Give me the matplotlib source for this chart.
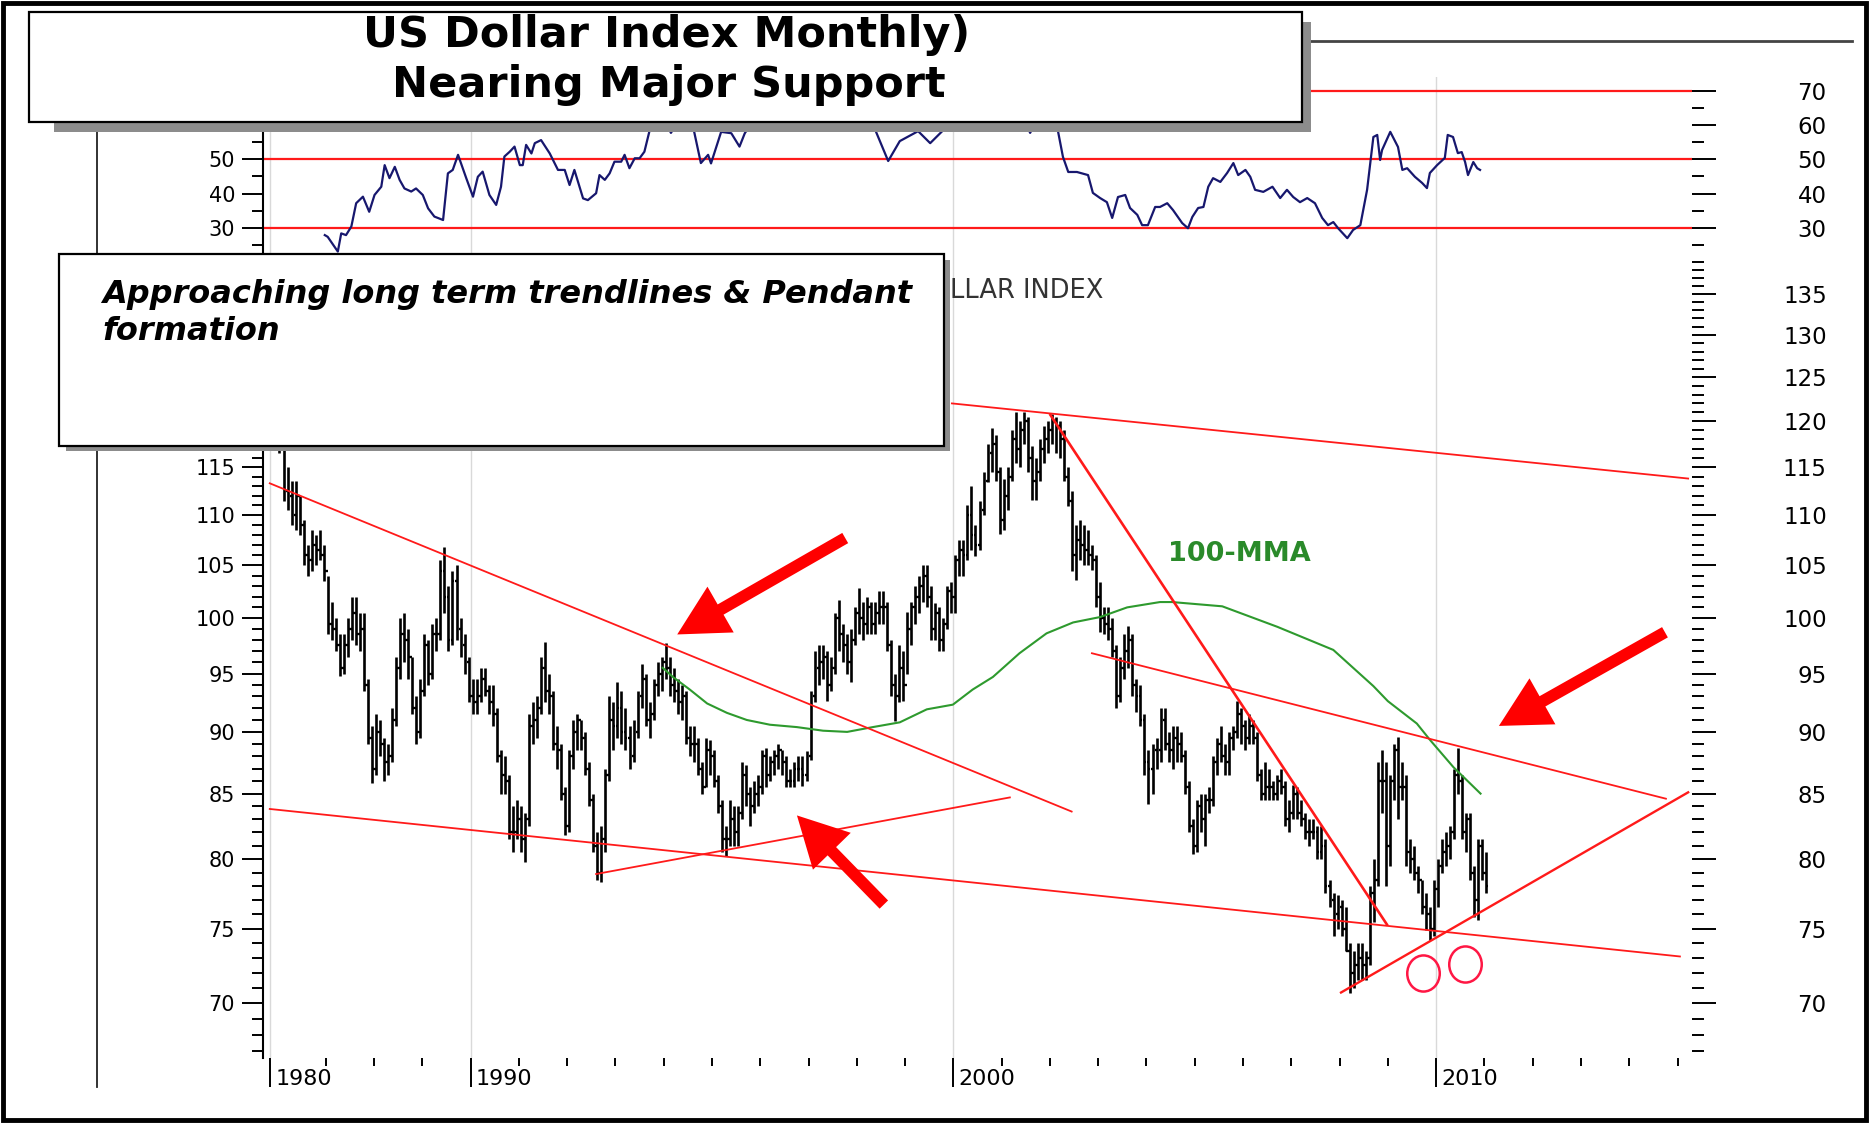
import numpy as np
import matplotlib.pyplot as plt
from matplotlib.patches import Rectangle
from matplotlib.lines import Line2D
from matplotlib.path import Path
from matplotlib.transforms import Affine2D
from matplotlib.ticker import FixedLocator, FixedFormatter, NullFormatter

# ---------------- data ----------------
# monthly bars, Jan 1986 .. Jan 2011
start_year = 1986
high = [122.0, 119.0, 115.0, 113.5, 113.5, 112.0, 109.5, 107.0, 108.5, 108.0, 108.5, 107.0,
        104.0, 101.5, 100.0, 98.5, 98.5, 100.0, 102.0, 102.0, 100.5, 100.5, 94.5, 90.5,
        91.5, 91.0, 89.5, 89.0, 92.0, 96.5, 100.0, 100.5, 99.0, 96.5, 93.0, 94.5,
        98.5, 98.0, 99.5, 100.0, 105.5, 106.8, 103.0, 104.5, 105.0, 100.0, 98.5, 96.5,
        94.5, 94.5, 95.5, 95.5, 94.0, 94.0, 92.0, 88.5, 88.0, 86.5, 84.0, 84.5,
        84.0, 83.5, 91.5, 92.5, 93.0, 96.5, 97.8, 95.0, 93.5, 90.5, 89.0, 85.5,
        88.5, 91.0, 91.5, 91.0, 90.0, 87.5, 85.0, 82.0, 82.5, 87.0, 93.0, 92.5,
        94.3, 93.5, 92.0, 90.5, 91.0, 93.5, 95.8, 95.0, 92.5, 94.5, 96.0, 96.5,
        97.7, 96.5, 95.5, 94.5, 94.0, 93.5, 90.5, 90.5, 89.5, 87.5, 89.5, 89.3,
        88.5, 86.5, 84.5, 82.5, 84.5, 84.0, 84.0, 87.5, 87.3, 85.5, 86.0, 86.5,
        88.5, 88.7, 88.0, 88.5, 89.0, 88.5, 88.0, 87.0, 87.5, 88.0, 88.0, 88.4,
        93.5, 97.0, 97.5, 97.5, 97.0, 96.5, 100.5, 101.7, 99.5, 98.5, 99.0, 101.0,
        102.8, 101.5, 102.0, 101.5, 101.5, 102.5, 102.5, 101.5, 98.0, 95.0, 97.5, 97.0,
        100.6, 101.5, 103.0, 104.0, 105.0, 105.0, 103.0, 101.4, 101.0, 100.0, 103.0, 103.4,
        106.0, 107.5, 107.5, 111.0, 113.0, 109.0, 111.5, 114.5, 117.5, 119.3, 118.5, 115.0,
        113.7, 115.0, 119.0, 121.0, 120.0, 121.0, 120.5, 117.3, 116.0, 118.0, 119.5, 120.0,
        120.8, 120.5, 120.0, 119.0, 115.0, 112.5, 109.0, 109.5, 109.0, 108.5, 107.0, 106.0,
        103.4, 101.0, 101.0, 100.0, 97.5, 96.5, 98.5, 99.3, 98.5, 94.5, 94.0, 91.5,
        88.5, 89.0, 89.5, 92.0, 92.0, 90.0, 90.5, 90.5, 90.0, 88.5, 86.0, 83.0,
        84.5, 85.0, 85.0, 85.5, 88.0, 89.5, 90.5, 89.0, 90.0, 90.5, 92.6, 92.0,
        91.0, 91.5, 91.0, 90.0, 87.0, 87.5, 87.0, 86.0, 86.5, 87.0, 86.0, 84.5,
        85.7, 85.5, 84.5, 83.5, 83.0, 83.0, 82.5, 82.5, 81.5, 78.5, 77.5, 77.4,
        77.0, 76.5, 74.0, 73.5, 74.0, 74.0, 73.5, 78.0, 80.0, 87.5, 88.5, 87.5,
        86.5, 89.0, 89.6, 87.5, 86.5, 81.5, 81.0, 79.5, 78.5, 77.5, 76.5, 78.5,
        80.0, 81.5, 82.0, 82.5, 87.0, 88.7, 86.5, 83.5, 83.5, 79.5, 81.5, 81.5,
        80.5]
low = [116.5, 111.5, 110.5, 109.0, 108.5, 108.0, 105.0, 104.0, 104.5, 105.0, 105.5, 103.5,
       98.5, 98.0, 97.0, 94.8, 95.0, 96.5, 98.0, 97.5, 97.0, 93.5, 89.0, 85.8,
       86.5, 88.0, 86.0, 86.5, 87.5, 90.5, 94.5, 96.0, 94.5, 91.5, 89.0, 89.5,
       93.0, 94.0, 94.5, 97.0, 98.0, 100.5, 97.0, 97.5, 98.0, 96.5, 95.0, 92.5,
       91.5, 91.5, 92.5, 93.0, 91.5, 90.5, 87.5, 85.0, 85.0, 81.5, 80.5, 81.5,
       80.5, 79.8, 82.5, 89.0, 89.5, 91.5, 92.5, 91.5, 88.5, 87.0, 84.5, 81.8,
       82.0, 87.0, 88.5, 88.5, 86.5, 84.0, 80.5, 78.5, 78.3, 80.5, 86.0, 88.5,
       89.5, 89.0, 88.5, 87.0, 87.5, 89.5, 92.0, 90.5, 89.5, 91.0, 93.0, 93.5,
       94.5, 93.0, 92.5, 91.5, 91.0, 89.0, 88.0, 87.5, 86.5, 85.0, 85.5, 86.5,
       85.5, 83.5, 80.5, 80.2, 81.0, 81.0, 81.0, 83.0, 84.0, 82.5, 83.5, 84.0,
       85.0, 85.5, 86.0, 86.5, 87.0, 86.5, 85.5, 85.5, 85.5, 86.0, 85.6, 86.0,
       87.7, 92.5, 94.0, 94.5, 92.6, 93.5, 95.0, 97.0, 96.0, 95.0, 94.3, 97.5,
       98.5, 98.0, 98.5, 98.5, 98.5, 99.5, 99.5, 97.0, 93.0, 90.9, 92.5, 92.6,
       95.0, 97.5, 99.5, 100.5, 101.5, 101.0, 98.0, 98.0, 97.0, 97.0, 99.0, 100.5,
       100.5, 104.0, 104.0, 105.5, 106.5, 105.9, 106.5, 110.0, 113.4, 114.5, 113.5, 108.1,
       108.5, 110.5, 113.5, 115.5, 115.0, 117.5, 114.5, 111.6, 111.6, 113.5, 115.5, 116.5,
       117.5, 116.5, 116.0, 113.5, 110.9, 104.5, 103.6, 105.5, 105.0, 105.0, 104.6, 101.0,
       98.7, 98.5, 98.0, 96.5, 92.0, 92.5, 94.5, 95.5, 93.0, 91.7, 90.5, 86.5,
       84.2, 85.0, 87.0, 87.5, 88.5, 87.5, 87.0, 87.5, 87.5, 85.0, 82.0, 80.4,
       80.5, 82.0, 81.0, 83.5, 84.0, 86.5, 87.5, 86.5, 86.5, 88.5, 89.5, 89.0,
       88.5, 89.0, 89.0, 86.0, 84.5, 84.5, 84.5, 84.5, 84.5, 85.0, 82.5, 82.0,
       83.0, 83.0, 82.5, 81.5, 81.0, 81.5, 80.0, 80.0, 77.5, 76.5, 74.5, 75.0,
       74.5, 73.5, 70.7, 71.0, 71.5, 71.5, 71.5, 72.5, 75.5, 78.0, 83.5, 78.0,
       79.5, 84.5, 83.0, 84.5, 79.5, 79.0, 78.5, 77.5, 76.0, 74.9, 74.2, 74.5,
       76.5, 79.0, 79.5, 80.0, 81.5, 85.0, 81.5, 80.5, 78.5, 75.8, 75.6, 78.5,
       77.5]
close = [118.0, 112.5, 112.0, 110.0, 112.0, 109.0, 106.0, 105.5, 107.0, 106.5, 106.0, 104.5,
         99.5, 99.0, 97.5, 95.5, 97.5, 99.0, 100.5, 98.5, 99.0, 94.0, 89.5, 87.0,
         90.0, 89.0, 87.5, 88.0, 91.0, 95.5, 98.5, 98.0, 96.5, 92.0, 90.0, 93.5,
         97.5, 95.0, 98.5, 98.5, 104.5, 102.0, 98.0, 103.5, 99.0, 97.5, 96.0, 93.0,
         92.5, 93.0, 94.5, 93.5, 92.5, 91.5, 88.0, 86.5, 86.0, 82.0, 82.0, 83.0,
         81.5, 83.0, 90.5, 91.0, 92.0, 95.5, 93.5, 93.0, 89.0, 88.5, 85.0, 82.5,
         88.0, 90.0, 91.0, 89.5, 87.0, 84.5, 81.0, 79.0, 81.5, 86.5, 91.0, 90.5,
         92.0, 90.0, 89.5, 88.0, 90.0, 93.0, 94.5, 91.0, 91.5, 94.0, 95.0, 96.0,
         95.5, 94.0, 93.5, 92.5, 93.0, 89.5, 89.0, 89.0, 87.0, 85.5, 88.5, 88.0,
         86.0, 84.0, 81.5, 81.5, 83.0, 82.0, 83.5, 86.5, 85.0, 84.0, 85.0, 85.5,
         88.0, 86.5, 87.5, 88.0, 88.5, 87.5, 86.0, 86.0, 87.0, 87.0, 86.5, 88.0,
         93.0, 95.5, 96.0, 96.5, 94.0, 95.5, 100.0, 98.5, 97.5, 96.0, 98.0, 100.5,
         100.0, 99.5, 101.0, 99.5, 100.5, 101.0, 101.0, 97.5, 94.0, 93.0, 95.5, 94.0,
         99.0, 101.0, 102.0, 103.0, 104.0, 102.0, 99.0, 100.5, 98.0, 99.5, 102.5, 102.0,
         105.5, 106.5, 106.0, 110.0, 108.0, 107.0, 110.5, 113.5, 116.5, 117.5, 114.5, 109.5,
         112.0, 114.0, 118.0, 117.0, 119.0, 120.0, 116.0, 113.5, 114.5, 117.0, 118.0, 119.0,
         120.0, 119.5, 118.0, 114.0, 111.5, 106.0, 107.5, 107.0, 106.5, 106.0, 105.5, 102.0,
         100.0, 99.5, 99.0, 97.0, 93.0, 95.5, 97.0, 98.0, 94.0, 93.0, 91.0, 87.5,
         87.0, 88.5, 88.5, 91.0, 89.0, 88.5, 89.5, 89.0, 88.0, 85.5, 82.5, 81.0,
         84.0, 83.0, 84.5, 84.5, 87.5, 89.0, 88.0, 87.5, 89.5, 90.0, 91.5, 90.5,
         89.5, 90.5, 89.5, 86.5, 85.0, 85.5, 85.5, 85.0, 86.0, 85.5, 83.0, 83.5,
         85.0, 83.5, 83.0, 82.0, 82.0, 82.0, 80.5, 81.0, 78.0, 77.0, 76.0, 76.5,
         75.0, 73.5, 72.0, 72.5, 73.0, 72.5, 73.0, 77.5, 78.5, 86.0, 86.0, 81.0,
         86.0, 88.5, 85.5, 85.5, 80.5, 80.0, 79.0, 78.5, 76.5, 76.0, 75.0, 77.8,
         79.5, 80.5, 81.0, 82.0, 86.5, 86.0, 82.0, 83.0, 79.0, 77.0, 81.0, 79.0,
         78.0]

# RSI panel
rsi_year = [1986.98, 1987.04, 1987.25, 1987.32, 1987.42, 1987.53, 1987.63, 1987.77, 1987.90, 1988.01,
            1988.15, 1988.22, 1988.32, 1988.43, 1988.53, 1988.63, 1988.77, 1988.87, 1989.01, 1989.12,
            1989.25, 1989.43, 1989.53, 1989.63, 1989.74, 1989.91, 1990.05, 1990.15, 1990.25, 1990.39,
            1990.53, 1990.63, 1990.70, 1990.81, 1990.91, 1991.02, 1991.08, 1991.15, 1991.26, 1991.33,
            1991.46, 1991.64, 1991.81, 1991.95, 1992.05, 1992.15, 1992.33, 1992.43, 1992.60, 1992.67,
            1992.78, 1992.88, 1992.98, 1993.12, 1993.19, 1993.29, 1993.40, 1993.50, 1993.60, 1993.71,
            1993.92, 1994.15, 1994.34, 1994.54, 1994.77, 1994.92, 1994.98, 1995.19, 1995.40, 1995.57,
            1995.68, 1995.99, 1996.41, 1996.82, 1997.24, 1997.86, 1998.28, 1998.65, 1998.89, 1999.27,
            1999.52, 1999.77, 2000.14, 2000.56, 2000.97, 2001.28, 2001.59, 2001.90, 2002.17, 2002.27,
            2002.38, 2002.56, 2002.79, 2002.89, 2003.04, 2003.18, 2003.29, 2003.41, 2003.56, 2003.66,
            2003.81, 2003.91, 2004.03, 2004.18, 2004.28, 2004.43, 2004.55, 2004.74, 2004.86, 2004.95,
            2005.07, 2005.18, 2005.28, 2005.38, 2005.53, 2005.67, 2005.80, 2005.90, 2006.05, 2006.15,
            2006.25, 2006.42, 2006.61, 2006.77, 2006.91, 2007.04, 2007.18, 2007.33, 2007.49, 2007.64,
            2007.76, 2007.87, 2007.97, 2008.16, 2008.28, 2008.43, 2008.57, 2008.70, 2008.78, 2008.84,
            2008.88, 2009.05, 2009.21, 2009.30, 2009.40, 2009.56, 2009.71, 2009.81, 2009.87, 2010.02,
            2010.18, 2010.24, 2010.35, 2010.45, 2010.53, 2010.60, 2010.66, 2010.77, 2010.85, 2010.91]
rsi_value = [27.9, 27.4, 23.1, 28.4, 27.9, 30.4, 37.2, 39.1, 34.7, 39.6,
             42.0, 48.3, 44.5, 47.8, 44.0, 41.5, 40.6, 41.5, 39.6, 35.7,
             33.3, 32.3, 45.9, 46.9, 51.3, 44.5, 39.1, 44.9, 46.4, 39.6,
             36.7, 42.0, 50.8, 52.2, 53.7, 48.3, 48.3, 54.2, 51.7, 54.7,
             55.6, 51.7, 46.9, 46.9, 42.5, 46.9, 38.6, 38.1, 40.1, 45.4,
             44.0, 45.9, 49.3, 49.3, 51.3, 47.4, 50.3, 50.3, 52.2, 58.5,
             64.0, 57.7, 62.0, 64.0, 48.9, 51.3, 48.8, 58.0, 57.6, 53.7,
             57.6, 64.0, 66.0, 64.0, 68.0, 65.0, 62.0, 49.5, 55.3, 58.2,
             54.7, 58.2, 66.0, 70.0, 66.0, 68.0, 57.7, 66.0, 58.0, 50.7,
             46.3, 46.3, 45.4, 40.2, 38.7, 37.5, 32.9, 39.0, 39.6, 35.8,
             33.8, 30.8, 30.8, 36.1, 36.1, 37.2, 35.2, 31.4, 29.9, 33.2,
             35.8, 36.1, 42.0, 44.5, 43.4, 46.0, 48.9, 45.4, 46.9, 44.9,
             41.1, 40.5, 42.0, 38.7, 41.1, 39.0, 37.5, 38.7, 37.2, 32.9,
             30.8, 31.7, 29.9, 27.0, 29.4, 30.8, 41.1, 56.5, 57.1, 49.8,
             52.7, 58.0, 53.6, 46.9, 47.4, 44.9, 43.1, 41.6, 46.0, 48.3,
             50.4, 57.1, 56.5, 51.8, 52.1, 49.2, 45.4, 49.2, 47.4, 46.9]
rsi_levels = [70, 50, 30]

# 100 month moving average
mma_year = [1993.98, 1994.19, 1994.54, 1994.90, 1995.31, 1995.72, 1996.20, 1996.76, 1997.30, 1997.80,
            1998.33, 1998.89, 1999.45, 1999.99, 2000.40, 2000.82, 2001.37, 2001.93, 2002.48, 2003.04,
            2003.60, 2004.28, 2004.53, 2005.57, 2006.71, 2007.87, 2008.70, 2009.00, 2009.60, 2009.88,
            2010.36, 2010.92]
mma_value = [95.5, 94.7, 93.6, 92.4, 91.6, 91.0, 90.6, 90.4, 90.1, 90.0,
             90.4, 90.8, 91.9, 92.3, 93.6, 94.7, 96.8, 98.6, 99.6, 100.1,
             101.0, 101.5, 101.5, 101.1, 99.2, 97.1, 93.9, 92.6, 90.7, 89.3,
             87.1, 85.0]

# drawn trendlines: (year0, value0, year1, value1)
trend_lines = [(1985.84, 113.3, 2002.45, 83.6),
               (1985.84, 83.8, 2015.05, 73.1),
               (1992.60, 78.9, 2001.17, 84.7),
               (1999.97, 122.0, 2015.22, 113.8),
               (2002.01, 120.7, 2008.98, 75.3),
               (2002.87, 96.8, 2014.76, 84.6),
               (2008.03, 70.7, 2015.22, 85.1)]
trend_widths = [1.3, 1.3, 1.3, 1.3, 1.9, 1.3, 1.7]

# arrows: tip and tail
arrow_tip = [(1994.28, 98.5), (1996.76, 83.3), (2011.30, 90.5)]
arrow_tail = [(1997.76, 107.7), (1998.56, 76.7), (2014.74, 98.7)]

circle_year = [2009.73, 2010.60]
circle_value = [72.0, 72.6]

decade_pos = [1985.85, 1990, 2000, 2010]
decade_labels = ['1980', '1990', '2000', '2010']
price_major = [70, 75, 80, 85, 90, 95, 100, 105, 110, 115, 120, 125, 130, 135]
price_left_labels = [70, 75, 80, 85, 90, 95, 100, 105, 110, 115]
rsi_major = [30, 40, 50, 60, 70]
rsi_left_labels = [30, 40, 50]

# ---------------- layout helpers (pixels of the 1870x1123 picture) ----------------
W, H = 1870, 1123
fig = plt.figure(figsize=(W / 100, H / 100), dpi=100)
fig.patch.set_facecolor('white')


def fx(x):
    return x / W


def fy(y):
    return 1 - y / H


x_lim = (1985.70, 2015.30)
tick_w = 1.4

# ---------------- price panel ----------------
ax = fig.add_axes([fx(263), fy(1058), fx(1692) - fx(263), fy(268) - fy(1058)])
ax.set_yscale('log')
ax.set_ylim(66.54, 138.3)
ax.set_xlim(*x_lim)
for s in ['top', 'right', 'bottom']:
    ax.spines[s].set_visible(False)
ax.spines['left'].set_linewidth(1.5)

for yr in decade_pos:
    ax.axvline(yr, color='#d9d9d9', lw=1.0, zorder=0)

t = start_year + np.arange(len(close)) / 12.0 + 1 / 24.0
hi = np.array(high)
lo = np.array(low)
cl = np.array(close)
op = np.r_[cl[0], cl[:-1]]
ax.vlines(t, lo, hi, color='black', lw=1.9, zorder=2)
ax.hlines(cl, t, t + 0.04, color='black', lw=1.7, zorder=2)
ax.hlines(op, t - 0.04, t, color='black', lw=1.7, zorder=2)

ax.plot(mma_year, mma_value, color='#2e9a2e', lw=1.5, zorder=3)

for (x0, y0, x1, y1), lw in zip(trend_lines, trend_widths):
    ax.plot([x0, x1], [y0, y1], color='#ff1a1a', lw=lw, zorder=4)

for tip, tail in zip(arrow_tip, arrow_tail):
    ax.annotate('', xy=tip, xytext=tail,
                arrowprops=dict(arrowstyle='simple,head_length=36,head_width=38,tail_width=8.5',
                                mutation_scale=1, color='#ff0000', lw=0,
                                shrinkA=0, shrinkB=0), zorder=5)

ell = Path.unit_circle().transformed(Affine2D().scale(0.9, 1.0))
ax.plot(circle_year, circle_value, ls='none', marker=ell, ms=26, mfc='none',
        mec='#ff1744', mew=1.8, zorder=5)

ax.text(2004.45, 105.4, '100-MMA', color='#2a8a2a', fontsize=19.5,
        fontweight='bold', va='baseline', ha='left', zorder=5)

minor_price = [v for v in range(67, 139) if v % 5]
ax.yaxis.set_major_locator(FixedLocator(price_major))
ax.yaxis.set_major_formatter(FixedFormatter([str(v) if v in price_left_labels else ''
                                             for v in price_major]))
ax.yaxis.set_minor_locator(FixedLocator(minor_price))
ax.yaxis.set_minor_formatter(NullFormatter())
ax.tick_params(axis='y', which='major', length=15, width=tick_w, labelsize=15, pad=5)
ax.tick_params(axis='y', which='minor', length=8, width=tick_w)

ax.xaxis.set_major_locator(FixedLocator(decade_pos))
ax.xaxis.set_major_formatter(NullFormatter())
ax.xaxis.set_minor_locator(FixedLocator([y for y in range(1987, 2016) if y % 10]))
ax.tick_params(axis='x', which='major', length=21, width=tick_w)
ax.tick_params(axis='x', which='minor', length=6, width=tick_w)
for yr, lab in zip(decade_pos, decade_labels):
    ax.annotate(lab, xy=(yr, 0), xycoords=('data', 'axes fraction'),
                xytext=(5, -11), textcoords='offset pixels',
                ha='left', va='top', fontsize=16)

axr = ax.twinx()
axr.set_yscale('log')
axr.set_ylim(ax.get_ylim())
for s in axr.spines.values():
    s.set_visible(False)
axr.yaxis.set_major_locator(FixedLocator(price_major))
axr.yaxis.set_major_formatter(FixedFormatter([str(v) for v in price_major]))
axr.yaxis.set_minor_locator(FixedLocator(minor_price))
axr.yaxis.set_minor_formatter(NullFormatter())
axr.tick_params(axis='y', which='major', length=17, width=tick_w, labelsize=16.5, pad=80)
axr.tick_params(axis='y', which='minor', length=8.5, width=tick_w)
plt.setp(axr.get_yticklabels(), ha='right')

# ---------------- RSI panel ----------------
ar = fig.add_axes([fx(263), fy(268), fx(1692) - fx(263), fy(77) - fy(268)])
ar.set_xlim(*x_lim)
ar.set_ylim(18.31, 73.99)
for s in ['top', 'right', 'bottom']:
    ar.spines[s].set_visible(False)
ar.spines['left'].set_linewidth(1.5)
for yr in decade_pos:
    ar.axvline(yr, color='#d9d9d9', lw=1.0, zorder=0)
for lvl in rsi_levels:
    ar.axhline(lvl, color='#ff1a1a', lw=1.6, zorder=2)
ar.plot(rsi_year, rsi_value, color='#17176e', lw=1.6, zorder=3)
ar.set_xticks([])
rsi_minor = [20, 25, 35, 45, 55, 65]
ar.yaxis.set_major_locator(FixedLocator(rsi_major))
ar.yaxis.set_major_formatter(FixedFormatter([str(v) if v in rsi_left_labels else ''
                                             for v in rsi_major]))
ar.yaxis.set_minor_locator(FixedLocator(rsi_minor))
ar.tick_params(axis='y', which='major', length=15, width=tick_w, labelsize=15, pad=5)
ar.tick_params(axis='y', which='minor', length=8, width=tick_w)

arr = ar.twinx()
arr.set_ylim(ar.get_ylim())
for s in arr.spines.values():
    s.set_visible(False)
arr.yaxis.set_major_locator(FixedLocator(rsi_major))
arr.yaxis.set_major_formatter(FixedFormatter([str(v) for v in rsi_major]))
arr.yaxis.set_minor_locator(FixedLocator(rsi_minor + [15]))
arr.tick_params(axis='y', which='major', length=17, width=tick_w, labelsize=16.5, pad=80)
arr.tick_params(axis='y', which='minor', length=8.5, width=tick_w)
plt.setp(arr.get_yticklabels(), ha='right')

# ---------------- frame and annotation boxes ----------------
fig.add_artist(Line2D([fx(97), fx(97)], [fy(41), fy(1087)], color='#222222', lw=1.3))
fig.add_artist(Line2D([fx(97), fx(1852)], [fy(41), fy(41)], color='#444444', lw=2.0))

# only the visible tail of the panel caption shows past the note box
fig.text(fx(1103), fy(298), 'LLAR INDEX', ha='right', va='baseline',
         fontsize=18.5, color='#333333', zorder=6)

fig.add_artist(Rectangle((fx(54), fy(132)), fx(1311) - fx(54), fy(22) - fy(132),
                         transform=fig.transFigure, facecolor='#8c8c8c',
                         edgecolor='none', zorder=10))
fig.add_artist(Rectangle((fx(29), fy(122)), fx(1302) - fx(29), fy(12) - fy(122),
                         transform=fig.transFigure, facecolor='white',
                         edgecolor='black', lw=1.6, zorder=11))
fig.text(fx(667), fy(47), 'US Dollar Index Monthly)', ha='center', va='baseline',
         fontsize=31, fontweight='bold', zorder=12)
fig.text(fx(669), fy(97), 'Nearing Major Support', ha='center', va='baseline',
         fontsize=31, fontweight='bold', zorder=12)

fig.add_artist(Rectangle((fx(66), fy(451)), fx(950) - fx(66), fy(260) - fy(451),
                         transform=fig.transFigure, facecolor='#8c8c8c',
                         edgecolor='none', zorder=10))
fig.add_artist(Rectangle((fx(59), fy(446)), fx(944) - fx(59), fy(254) - fy(446),
                         transform=fig.transFigure, facecolor='white',
                         edgecolor='black', lw=1.6, zorder=11))
fig.text(fx(102), fy(303), 'Approaching long term trendlines & Pendant', ha='left',
         va='baseline', fontsize=23, fontstyle='italic', fontweight='bold', zorder=12)
fig.text(fx(102), fy(340), 'formation', ha='left', va='baseline',
         fontsize=23, fontstyle='italic', fontweight='bold', zorder=12)

fig.add_artist(Rectangle((fx(3), fy(1120)), fx(1866) - fx(3), fy(3) - fy(1120),
                         transform=fig.transFigure, fill=False,
                         edgecolor='black', lw=3.5, zorder=20))

fig.savefig('out.png', dpi=100)
